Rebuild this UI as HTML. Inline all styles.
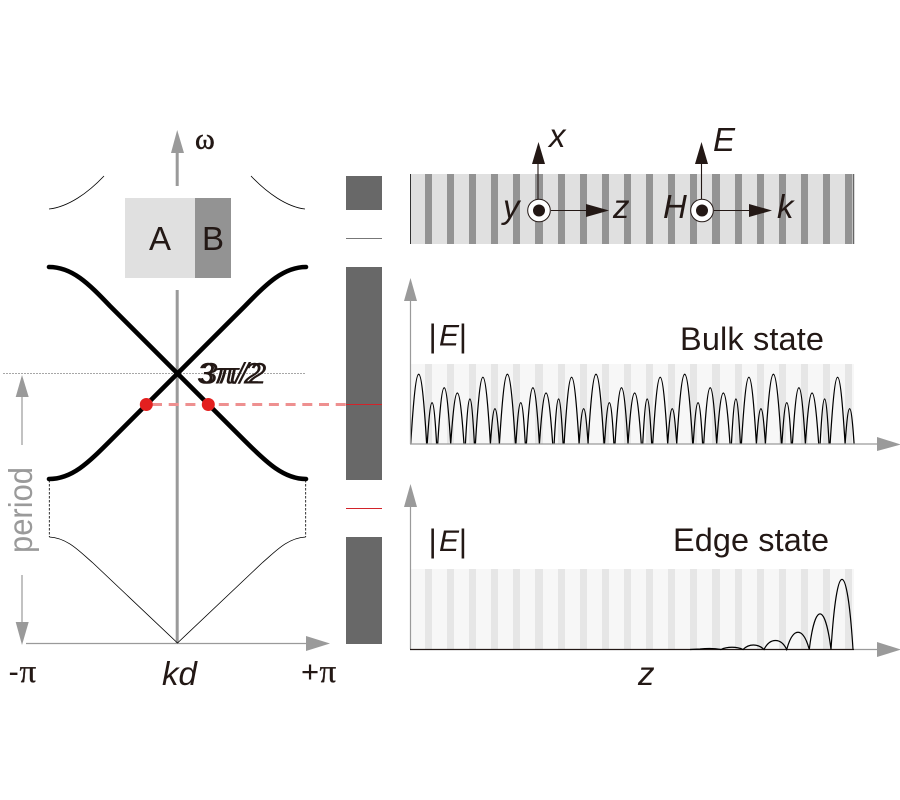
<!DOCTYPE html>
<html><head><meta charset="utf-8"><title>Band diagram</title>
<style>html,body{margin:0;padding:0;background:#fff}svg{display:block}
text{font-family:"Liberation Sans",sans-serif;fill:#231815}
text.serif{font-family:"Liberation Serif",serif}</style></head>
<body>
<svg width="900" height="800" viewBox="0 0 900 800" xmlns="http://www.w3.org/2000/svg">
<defs>
<g id="stripes">
<rect x="425" width="7" height="1"/><rect x="447" width="7" height="1"/><rect x="469" width="7" height="1"/><rect x="491" width="7" height="1"/><rect x="513" width="7" height="1"/><rect x="535" width="8" height="1"/><rect x="558" width="7" height="1"/><rect x="580" width="7" height="1"/><rect x="602" width="7" height="1"/><rect x="624" width="7" height="1"/><rect x="646" width="7" height="1"/><rect x="668" width="7" height="1"/><rect x="690" width="7" height="1"/><rect x="712" width="8" height="1"/><rect x="735" width="7" height="1"/><rect x="757" width="7" height="1"/><rect x="779" width="7" height="1"/><rect x="801" width="7" height="1"/><rect x="823" width="7" height="1"/><rect x="845" width="7" height="1"/>
</g>
<path id="hump" fill="none" stroke="#000" stroke-width="1.250" d="M0,0 C5.800,-93 10.200,-93 16,0 M16.500,0 C20,-55 22.800,-55 25.900,0 M27,0 C31.700,-75 35.300,-75 40,0 C44.800,-68 48.500,-68 53.300,0 M54.700,0 C58,-60 60.400,-60 63.700,0 M64.700,0 C70.200,-89 74.200,-89 79.700,0 C83,-47 85.500,-47 88.700,0"/>
</defs>

<!-- left axis -->
<g fill="#9a9a9a" stroke="none">
<rect x="175.700" y="150" width="3" height="36"/>
<rect x="175.700" y="290" width="3" height="353"/>
<path d="M177.200,130 L184,153 L171,153 Z"/>
<path d="M330,643.500 L306,636 L306,651 Z"/>
<path d="M22,375 L28.700,397 L15.700,397 Z"/>
<path d="M22,645 L28.700,622 L15.700,622 Z"/>
</g>
<path d="M26,643.500H306M22,397V445M22,575V622" stroke="#9a9a9a" stroke-width="1.200" fill="none"/>
<path d="M3,373.500H306" stroke="#8a8a8a" stroke-width="0.800" stroke-dasharray="2 1" fill="none"/>

<!-- AB -->
<rect x="125" y="198" width="70" height="80" fill="#e0e0e0"/>
<rect x="195" y="198" width="36" height="80" fill="#939393"/>
<text x="149" y="250" font-size="33">A</text>
<text x="202" y="250" font-size="33">B</text>

<!-- thin curves -->
<g fill="none" stroke="#000" stroke-width="0.800">
<path d="M49,209 C68,207 88,193 104,176"/>
<path d="M251,176 C267,193 287,207 305,209"/>
<path d="M49.300,537 C68,538 80,552 93,563 L177.500,643 L262,563 C275,552 287,538 305.700,537"/>
<path d="M49.300,480V537M305.700,480V537" stroke-dasharray="2.500 1.500"/>
</g>

<!-- thick curves -->
<g fill="none" stroke="#000" stroke-width="4.600" stroke-linecap="round">
<path d="M49,267 C72,267 88,283 110,306 L245,441 C267,463 284,479 306,479"/>
<path d="M49,479 C72,479 88,463 110,441 L245,306 C267,283 284,267 306,267"/>
</g>

<!-- dashed line and dots -->
<path d="M152,404.500H346" stroke="#ee9090" stroke-width="3" stroke-dasharray="10 6.700" fill="none"/>
<circle cx="146.300" cy="404.500" r="6.500" fill="#e3201f"/>
<circle cx="208.300" cy="404.500" r="6.500" fill="#e3201f"/>

<!-- band bars -->
<g fill="#686868">
<rect x="346" y="176" width="36" height="34"/>
<rect x="346" y="267" width="36" height="213"/>
<rect x="346" y="537" width="36" height="107"/>
</g>
<path d="M346,238.500H382" stroke="#777" stroke-width="1" fill="none"/>
<path d="M346,404.500H382" stroke="#d2232a" stroke-width="1" fill="none"/>
<path d="M346,508.500H382" stroke="#d2232a" stroke-width="1" fill="none"/>

<!-- left labels -->
<text class="serif" x="195" y="148.500" font-size="30" stroke="#231815" stroke-width="0.500">ω</text>
<text x="197" y="383.500" font-size="30" font-style="italic" textLength="64" lengthAdjust="spacingAndGlyphs">3π/2</text>
<text x="199.500" y="383.500" font-size="30" font-style="italic" textLength="67" lengthAdjust="spacingAndGlyphs">3π/2</text>
<text x="32" y="553" font-size="33" style="fill:#9a9a9a" transform="rotate(-90 32 553)" textLength="86" lengthAdjust="spacingAndGlyphs">period</text>
<text x="8.500" y="682" font-size="31">-</text>
<text class="serif" x="19.500" y="682" font-size="33" stroke="#231815" stroke-width="0.300">π</text>
<text x="301" y="682" font-size="31">+</text>
<text class="serif" x="319.500" y="682" font-size="33" stroke="#231815" stroke-width="0.300">π</text>
<text x="162" y="685" font-size="33" font-style="italic">kd</text>

<!-- top stripe panel -->
<rect x="410" y="174" width="444" height="70" fill="#e0e0e0"/>
<g fill="#939393"><use href="#stripes" transform="translate(0,174) scale(1,70)"/></g>
<path d="M410.500,174V244" stroke="#333" stroke-width="1" fill="none"/>
<path d="M853.500,174V244" stroke="#666" stroke-width="1.500" fill="none"/>

<g fill="none" stroke="#231815" stroke-width="1.100">
<path d="M538,164V200M701.500,164V200M551,210.500H587M714,210.500H750"/>
</g>
<g fill="#231815">
<path d="M538.500,142 L545,164 L532,164 Z"/>
<path d="M701.500,142 L708,164 L695,164 Z"/>
<path d="M609,210.500 L586,204 L586,217 Z"/>
<path d="M772,210.500 L749,204 L749,217 Z"/>
</g>
<circle cx="539" cy="210.500" r="11.300" fill="#fff" stroke="#231815" stroke-width="1"/>
<circle cx="539" cy="210.500" r="6" fill="#231815"/>
<circle cx="702" cy="210.500" r="11.300" fill="#fff" stroke="#231815" stroke-width="1"/>
<circle cx="702" cy="210.500" r="6" fill="#231815"/>
<g font-size="33" font-style="italic">
<text x="549" y="147">x</text>
<text x="713" y="151">E</text>
<text x="503" y="218">y</text>
<text x="613" y="218">z</text>
<text x="663" y="218">H</text>
<text x="777" y="218">k</text>
<text x="638" y="685">z</text>
</g>

<!-- bulk panel -->
<rect x="411" y="364" width="443" height="80" fill="#f7f7f7"/>
<g fill="#e6e6e6"><use href="#stripes" transform="translate(0,364) scale(1,80)"/></g>
<use href="#hump" x="410.700" y="444"/>
<use href="#hump" x="499.400" y="444"/>
<use href="#hump" x="588" y="444"/>
<use href="#hump" x="676.700" y="444"/>
<use href="#hump" x="765.400" y="444"/>
<path d="M410.500,300V444M410,444H877" stroke="#9a9a9a" stroke-width="1.200" fill="none"/>
<path d="M410.500,278 L417,301 L404,301 Z M901,444.500 L877,437 L877,451 Z" fill="#9a9a9a"/>
<text x="428.500" y="347" font-size="32">|</text>
<text x="439" y="345.500" font-size="30" font-style="italic">E</text>
<text x="458.800" y="347" font-size="32">|</text>
<text x="680" y="350" font-size="32.500" textLength="144">Bulk state</text>

<!-- edge panel -->
<rect x="411" y="569" width="443" height="80" fill="#f7f7f7"/>
<g fill="#e6e6e6"><use href="#stripes" transform="translate(0,569) scale(1,80)"/></g>
<path d="M410.500,506V649M854,649.500H877" stroke="#9a9a9a" stroke-width="1.200" fill="none"/>
<path d="M410,649.500H854" stroke="#231815" stroke-width="1.200" fill="none"/>
<path d="M410.500,484 L417,507 L404,507 Z M901,649.500 L877,642 L877,657 Z" fill="#9a9a9a"/>
<path fill="none" stroke="#000" stroke-width="1.200" d="M690,649.500 L700,649 C706,648.300 715,648.300 721,649.500 C727,646.500 737,646.500 743,649.500 C749,643.500 758,643.500 764,649.500 C770,637.500 781,637.500 786.700,649.500 C793,626.500 803,626.500 809.300,649.500 C815,602 825,602 831,649.500 C837,556 847,556 853,649.500"/>
<text x="428.500" y="552" font-size="32">|</text>
<text x="439" y="551" font-size="30" font-style="italic">E</text>
<text x="458.800" y="552" font-size="32">|</text>
<text x="673" y="551" font-size="32.400" textLength="156">Edge state</text>
</svg>
</body></html>
